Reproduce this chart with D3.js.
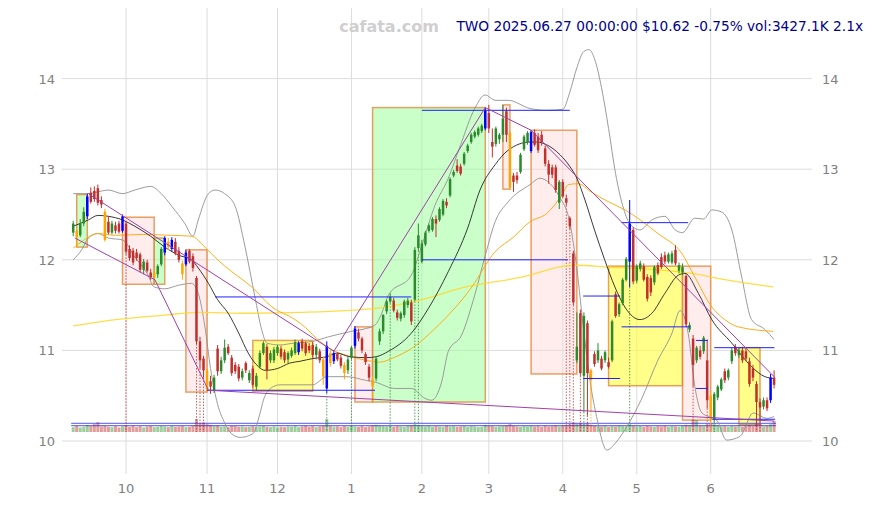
<!DOCTYPE html>
<html><head><meta charset="utf-8">
<script src="https://cdn.jsdelivr.net/npm/d3@7"></script>
<style>body{margin:0;background:#fff}svg{display:block}text{font-family:"DejaVu Sans",sans-serif}</style>
</head><body><svg id="c" width="874" height="505"></svg>
<script>
// ---------- DATA ----------
const monthTickIdx = [15,38,58,79,99,118,139,160,181];
const monthTickLbl = ["10","11","12","1","2","3","4","5","6"];
const priceTicks = [10,11,12,13,14];

// daily candles [open, high, low, close], trading days 2024-09-10 .. 2025-06-27
const candles = [
[12.30,12.43,12.26,12.40],[12.32,12.34,12.14,12.25],[12.27,12.45,12.25,12.40],[12.40,12.58,12.37,12.53],[12.48,12.73,12.45,12.70],
[12.74,12.80,12.62,12.64],[12.76,12.81,12.64,12.67],[12.79,12.83,12.60,12.63],[12.66,12.70,12.57,12.61],[12.53,12.56,12.20,12.22],
[12.42,12.48,12.28,12.30],[12.30,12.43,12.28,12.40],[12.38,12.42,12.29,12.32],[12.40,12.43,12.29,12.31],[12.32,12.50,12.30,12.48],
[12.40,12.43,12.06,12.09],[12.12,12.16,11.99,12.02],[12.10,12.13,11.94,11.97],[12.08,12.12,11.99,12.02],[12.06,12.08,11.86,11.89],
[11.89,12.01,11.84,11.98],[11.97,12.00,11.86,11.88],[11.86,11.90,11.78,11.81],[11.80,11.90,11.75,11.86],[11.84,11.95,11.80,11.93],
[11.95,12.14,11.93,12.12],[12.08,12.26,12.05,12.24],[12.20,12.24,12.11,12.14],[12.12,12.25,12.09,12.22],[12.20,12.24,12.05,12.07],
[12.10,12.14,11.97,12.00],[11.96,11.99,11.78,11.84],[11.95,12.11,11.93,12.08],[12.10,12.12,11.96,11.98],[12.04,12.07,11.87,11.91],
[11.80,11.82,11.07,11.10],[11.10,11.15,10.80,10.89],[10.91,10.94,10.70,10.78],[10.78,10.80,10.54,10.57],[10.66,10.72,10.52,10.60],
[10.56,10.73,10.53,10.70],[11.02,11.06,10.72,10.77],[10.77,10.93,10.74,10.89],[10.89,11.12,10.86,11.03],[11.04,11.07,10.95,10.97],
[10.92,10.95,10.72,10.75],[10.84,10.87,10.74,10.77],[10.82,10.85,10.66,10.69],[10.70,10.80,10.67,10.77],[10.86,10.88,10.75,10.78],
[10.67,10.78,10.64,10.75],[10.80,10.83,10.59,10.62],[10.60,10.75,10.56,10.72],[10.82,11.00,10.80,10.97],[10.97,11.10,10.95,11.08],
[11.04,11.07,10.68,10.78],[10.89,11.00,10.86,10.97],[10.89,11.04,10.86,11.01],[10.97,11.06,10.94,11.04],[11.02,11.05,10.90,10.93],
[10.98,11.01,10.86,10.89],[10.90,10.99,10.86,10.97],[10.94,11.03,10.92,11.00],[10.97,11.12,10.95,11.09],[10.98,11.10,10.95,11.08],
[11.10,11.13,10.99,11.02],[11.08,11.10,10.94,10.97],[11.05,11.08,10.97,11.00],[11.06,11.09,10.92,10.95],[10.95,11.07,10.90,11.04],
[10.99,11.02,10.86,10.89],[10.90,10.93,10.62,10.71],[10.58,11.10,10.53,11.05],[10.97,11.00,10.82,10.86],[10.88,11.00,10.85,10.97],
[10.96,10.98,10.88,10.90],[10.92,10.95,10.80,10.83],[10.84,10.87,10.68,10.75],[10.78,10.93,10.74,10.90],[10.92,11.05,10.90,11.03],
[11.05,11.27,11.02,11.24],[11.20,11.24,11.10,11.13],[11.13,11.15,10.97,11.00],[10.96,10.98,10.84,10.87],[10.82,10.85,10.66,10.70],
[10.68,10.72,10.44,10.61],[10.69,10.93,10.66,10.91],[11.10,11.24,11.06,11.21],[11.21,11.40,11.18,11.39],[11.43,11.56,11.40,11.54],
[11.54,11.63,11.52,11.59],[11.55,11.58,11.42,11.44],[11.42,11.45,11.33,11.36],[11.35,11.43,11.32,11.41],[11.39,11.56,11.36,11.54],
[11.50,11.58,11.47,11.55],[11.53,11.56,11.28,11.32],[11.56,12.14,11.54,12.11],[12.13,12.40,12.10,12.27],[11.98,12.22,11.96,12.18],
[12.17,12.32,12.15,12.30],[12.32,12.40,12.30,12.38],[12.33,12.47,12.31,12.45],[12.45,12.49,12.25,12.40],[12.44,12.58,12.42,12.56],
[12.50,12.67,12.48,12.65],[12.64,12.68,12.57,12.60],[12.71,12.91,12.69,12.89],[12.93,12.99,12.91,12.97],[13.04,13.11,12.96,12.98],
[13.03,13.06,12.93,12.95],[13.06,13.19,13.04,13.17],[13.20,13.28,13.18,13.26],[13.30,13.40,13.28,13.38],[13.36,13.43,13.34,13.41],
[13.38,13.47,13.36,13.45],[13.42,13.50,13.40,13.48],[13.45,13.68,13.43,13.65],[13.62,13.71,13.40,13.45],[13.30,13.45,13.13,13.25],
[13.28,13.47,13.25,13.45],[13.33,13.40,13.28,13.38],[13.38,13.71,13.30,13.56],[13.64,13.68,13.30,13.38],[13.40,13.42,12.77,12.80],
[12.93,12.96,12.75,12.86],[12.93,12.97,12.84,12.88],[12.97,13.18,12.95,13.16],[13.22,13.38,13.20,13.36],[13.30,13.42,13.27,13.40],
[13.20,13.43,13.18,13.41],[13.40,13.44,13.25,13.27],[13.36,13.40,13.18,13.21],[13.38,13.42,13.26,13.30],[13.23,13.26,13.03,13.06],
[13.06,13.10,12.84,12.94],[13.02,13.05,12.90,12.94],[13.02,13.05,12.74,12.77],[12.63,12.88,12.56,12.86],[12.86,12.89,12.68,12.70],
[12.68,12.72,12.60,12.63],[12.46,12.48,12.34,12.37],[12.07,12.10,11.50,11.53],[10.89,11.42,10.86,11.04],[11.41,11.45,10.72,10.75],
[10.72,11.42,10.32,11.38],[11.30,11.33,10.28,10.75],[10.78,10.80,10.33,10.67],[10.96,10.99,10.82,10.85],[10.89,11.08,10.86,11.00],
[10.91,10.94,10.78,10.80],[10.89,11.00,10.86,10.98],[10.87,10.92,10.80,10.82],[10.89,11.34,10.87,11.32],[11.62,11.65,11.36,11.38],
[11.40,11.53,11.37,11.51],[11.52,11.80,11.50,11.78],[11.78,12.03,11.76,12.01],[11.98,12.66,11.70,12.40],[12.33,12.36,11.73,11.76],
[11.77,11.95,11.74,11.93],[11.90,11.99,11.87,11.96],[11.93,11.96,11.76,11.78],[11.81,11.84,11.54,11.57],[11.80,11.83,11.60,11.64],
[11.75,11.94,11.72,11.92],[11.94,11.97,11.83,11.85],[12.03,12.07,11.90,11.92],[12.05,12.09,11.95,11.98],[11.98,12.08,11.96,12.06],
[11.97,12.10,11.95,12.07],[12.11,12.16,11.94,11.96],[11.88,11.97,11.85,11.94],[11.86,11.96,11.83,11.92],[11.82,11.84,11.26,11.29],
[11.23,11.31,11.20,11.28],[11.13,11.17,10.60,10.84],[10.89,11.05,10.86,11.03],[11.00,11.05,10.90,10.93],[10.99,11.16,10.96,11.14],
[10.89,11.12,10.36,10.45],[10.50,10.55,10.18,10.24],[10.24,10.54,10.21,10.52],[10.48,10.62,10.45,10.60],[10.57,10.70,10.55,10.68],
[10.77,10.80,10.64,10.67],[10.70,10.80,10.67,10.78],[10.88,11.03,10.85,11.00],[11.04,11.07,10.94,10.97],[10.95,11.03,10.92,11.00],
[11.00,11.04,10.86,10.89],[10.99,11.03,10.88,10.91],[10.88,10.92,10.60,10.63],[10.80,10.84,10.66,10.70],[10.63,10.66,10.17,10.43],
[10.43,10.47,10.22,10.37],[10.38,10.48,10.35,10.45],[10.45,10.48,10.33,10.36],[10.45,10.74,10.42,10.70],[10.70,10.78,10.58,10.62]
];
// daily volume (K shares)
const volume = [
1500,1900,1400,1600,2100,1800,2400,3000,1700,1900, 1600,1500,1800,1400,1700,2000,1600,1900,1500,1800,
1400,1700,1900,1500,1600,1800,1700,1500,1900,1600, 1700,1800,1500,1600,1900,4000,2600,2900,2400,2200,
1800,2000,1600,1700,1500,1900,1800,1600,1700,1500, 1600,1800,1500,1700,1900,1600,1500,1700,1400,1600,
1500,1700,1600,1800,1500,1700,1900,1600,1800,1500, 1700,1900,4000,1800,1600,1700,1500,1800,1600,1900,
1700,1600,1800,1500,1700,2000,2200,1900,1800,1700, 1900,1600,1800,1700,1600,1900,2000,2300,2100,1800,
1700,1900,1600,1800,1700,1600,1900,1700,1800,1600, 1700,1900,1600,1800,1700,1500,1600,2200,1900,1800,
1600,1700,1800,2000,2400,1900,1700,1600,1800,1700, 1900,1700,1800,1600,1900,1700,1800,2000,1700,1900,
2100,2300,2900,2500,2800,2400,2600,2200,1900,1800, 1700,1900,1600,1800,1700,2000,1800,1700,2400,1900,
1700,1800,1600,1900,1700,1600,1800,1700,1900,1600, 1800,1700,1600,1900,2200,2000,3900,3700,1900,1800,
2300,2600,2400,1900,1700,1800,1600,1900,1700,1800, 1600,1900,2100,1800,2600,2500,1700,1900,2400,3427
];
const volLevels = [2680, 1940];
const blueCandles = [4,14,26,28,32,64,72,74,80,117,130,158,198];
const orangeCandles = [1,9,23,27,31,38,71,73,77,85,124,147,181];
const dotRed = [15,35,36,37,140,141,142,144,146,176,180,194,195];
const dotGreen = [72,79,90,97,98,145,158,182];
const dotOrange = [147,181];

// pattern boxes [startIdx, endIdx, low, high, kind]
const boxes = [
[1,4,12.14,12.72,"up"],[14,23,11.73,12.47,"down"],[23,26,11.73,12.24,"up"],[32,38,10.54,12.11,"down"],
[51,68,10.55,11.11,"flat"],[80,85,10.43,11.26,"down"],[85,117,10.43,13.68,"up"],[122,124,12.78,13.71,"down"],
[130,143,10.74,13.43,"down"],[152,173,10.61,11.93,"flat"],[173,181,10.23,11.93,"down"],[189,195,10.18,11.03,"flat"]
];
// support/resistance segments [startIdx, endIdx, price]
const levels = [
[40.3,96,11.59],[38,85.7,10.56],[99,141,13.65],[99,140.5,12.0],[155.7,174.6,12.41],[144.8,155.3,11.60],
[155.7,175.1,11.26],[144.8,155.3,10.69],[176.8,180.2,11.11],[176.8,180.2,10.58],[182,199.1,11.03],[181.3,199.3,10.24]
];
// trend lines (idx, price)
const trendUpper = [[4.3,12.73],[74,10.99],[117,13.68],[130,13.43],[199,10.71]];
const trendLower = [[0.5,12.24],[23.2,11.78],[38.4,10.56],[199,10.22]];

// indicator curves (idx, price)
const ma20 = [[0,12.37],[4.3,12.44],[7,12.49],[10,12.48],[14,12.44],[17.5,12.37],[22,12.26],[26,12.14],[30,12.05],[33.6,12.0],[35.5,11.91],[38.4,11.74],[41,11.56],[44,11.41],[47,11.19],[49.7,10.97],[52.6,10.82],[54.5,10.78],[58,10.80],[61.5,10.86],[64.4,10.88],[68,10.91],[72,10.93],[74.8,10.97],[78.6,10.93],[83.3,10.92],[86,10.93],[89.5,10.99],[96,11.19],[100.8,11.46],[106.5,11.87],[112,12.35],[115.5,12.77],[119.8,13.05],[123.5,13.21],[129.7,13.30],[131.6,13.30],[134.4,13.27],[138.2,13.16],[141,13.03],[143,12.90],[145.3,12.66],[148,12.33],[150.9,12.0],[153.8,11.70],[156.6,11.48],[160.9,11.34],[164.3,11.41],[168,11.63],[171.8,11.83],[173.7,11.85],[177.5,11.63],[181.3,11.34],[187,11.08],[192.6,10.82],[196.4,10.71],[199,10.69]];
const bbUpper = [[0,12.73],[4,12.73],[7,12.75],[10,12.77],[14,12.73],[17.5,12.77],[22,12.81],[25,12.73],[28,12.59],[31.7,12.40],[34,12.26],[35.5,12.44],[38.4,12.73],[40.3,12.77],[43,12.73],[46,12.59],[48.8,12.14],[51.6,11.59],[53.5,11.23],[55,11.08],[58.7,11.06],[62.5,11.08],[68,11.10],[72.5,11.15],[79,11.21],[83,11.24],[85.7,11.28],[87.5,11.40],[89.5,11.61],[96,11.83],[99,12.16],[102.7,12.60],[106.5,12.90],[110,13.27],[114,13.67],[117,13.82],[119.8,13.76],[123.5,13.76],[129.7,13.67],[134.4,13.65],[139,13.66],[141,13.85],[143,14.12],[145,14.30],[146.5,14.32],[148,14.22],[150,13.90],[152,13.45],[154,12.95],[156,12.60],[158,12.40],[160.9,12.33],[164.3,12.44],[168,12.48],[170.9,12.33],[173,12.30],[176.5,12.46],[179,12.45],[181.3,12.55],[184,12.53],[187,12.33],[189.8,11.81],[192.6,11.34],[196.4,11.23],[199,11.12]];
const bbLower = [[0,12.0],[2.4,12.11],[4.3,12.24],[7,12.29],[10,12.24],[14,12.22],[17.5,12.03],[21,11.85],[23,11.70],[26,11.68],[30,11.72],[33.6,11.74],[35.5,11.63],[37.4,11.26],[39,10.80],[40.7,10.45],[43,10.2],[45,10.08],[47.4,10.04],[51,10.08],[53,10.3],[54,10.45],[56,10.58],[58.7,10.62],[68,10.62],[72,10.71],[77.7,10.71],[83,10.67],[85.7,10.65],[91.4,10.58],[96,10.58],[99.9,10.47],[101.8,10.45],[104.6,10.65],[106.5,10.99],[110.3,11.17],[114,11.61],[117,12.05],[119.8,12.42],[123.5,12.64],[129.7,12.83],[132.5,12.90],[135.4,12.84],[138,12.70],[141,12.41],[143,11.9],[145,11.2],[147,10.6],[148.6,10.27],[151.5,9.90],[154,9.98],[157.2,10.16],[161.2,10.45],[166,10.89],[170,11.19],[172.3,11.44],[174.6,11.19],[176.5,10.60],[178.5,10.31],[182.7,10.23],[185.5,10.01],[189.3,10.05],[193.1,10.31],[196.9,10.25],[199,10.27]];
const ma50 = [[0,12.13],[2.4,12.20],[7,12.29],[12,12.27],[20,12.28],[28,12.27],[33.6,12.26],[37.4,12.14],[41,12.0],[45,11.87],[50.7,11.70],[56.4,11.48],[63,11.34],[66,11.25],[70,11.10],[73.9,11.0],[79,10.93],[83.3,10.89],[87,10.87],[91,10.92],[96,11.02],[102.7,11.24],[113,11.69],[119.8,12.09],[125,12.25],[129.7,12.42],[134.4,12.51],[139,12.73],[140.6,12.83],[143.4,12.84],[147,12.75],[152,12.64],[156.7,12.55],[161,12.44],[166,12.29],[172.8,12.07],[176.5,11.81],[181.3,11.48],[185,11.34],[188.8,11.26],[198.8,11.21]];
const ma200 = [[0,11.27],[12,11.34],[26,11.39],[35.5,11.42],[49.7,11.41],[64.4,11.42],[87,11.47],[99,11.56],[110.3,11.69],[129.7,11.83],[137.7,11.92],[142.5,11.94],[152,11.92],[166,11.89],[175.6,11.85],[185,11.78],[198.8,11.70]];

const titleBrand = "cafata.com";
const titleInfo = "TWO 2025.06.27 00:00:00 $10.62 -0.75% vol:3427.1K 2.1x";

// ---------- DRAW ----------
const svg = d3.select("#c");
const x = d3.scaleLinear().domain([0,199]).range([73.2,774.1]);
const y = d3.scaleLinear().domain([10,14]).range([441,78.6]);
const vy = d3.scaleLinear().domain([0,4000]).range([432,419]);
const plotL = 62, plotR = 812, plotT = 8, plotB = 474;

const UP="#2b8a2b", DN="#c0302c", BLUE="#0000ff", ORG="#ffa500";

// grid
const g = svg.append("g");
g.selectAll(".hg").data(priceTicks).join("line")
 .attr("x1",plotL).attr("x2",plotR).attr("y1",d=>y(d)).attr("y2",d=>y(d))
 .attr("stroke","#dcdcdc").attr("stroke-width",1);
g.selectAll(".vg").data(monthTickIdx).join("line")
 .attr("x1",d=>x(d)).attr("x2",d=>x(d)).attr("y1",plotT).attr("y2",plotB)
 .attr("stroke","#dcdcdc").attr("stroke-width",1);

// axis labels
const tcol="#808080";
svg.selectAll(".yl").data(priceTicks).join("text").attr("x",55).attr("y",d=>y(d)+5)
 .attr("text-anchor","end").attr("font-size",13).attr("fill",tcol).text(d=>d);
svg.selectAll(".yr").data(priceTicks).join("text").attr("x",822).attr("y",d=>y(d)+5)
 .attr("text-anchor","start").attr("font-size",13).attr("fill",tcol).text(d=>d);
svg.selectAll(".xl").data(monthTickIdx).join("text").attr("x",d=>x(d)).attr("y",493)
 .attr("text-anchor","middle").attr("font-size",13).attr("fill",tcol).text((d,i)=>monthTickLbl[i]);

// boxes
const boxFill = {up:"rgba(150,255,150,0.5)", down:"rgba(255,215,215,0.45)", flat:"rgba(255,255,60,0.6)"};
svg.append("g").selectAll("rect").data(boxes).join("rect")
 .attr("x",d=>x(d[0])).attr("width",d=>x(d[1])-x(d[0]))
 .attr("y",d=>y(d[3])).attr("height",d=>y(d[2])-y(d[3]))
 .attr("fill",d=>boxFill[d[4]]).attr("stroke","rgba(225,130,50,0.75)").attr("stroke-width",1.5);

// volume
const bw = 2.5;
svg.append("g").selectAll("rect").data(volume).join("rect")
 .attr("x",(d,i)=>x(i)-1.5).attr("width",3)
 .attr("y",d=>vy(d)).attr("height",d=>vy(0)-vy(d))
 .attr("fill",(d,i)=>candles[i][3]>=candles[i][0]?"rgba(60,160,60,0.5)":"rgba(200,60,60,0.5)");
svg.append("g").selectAll("line").data(volLevels).join("line")
 .attr("x1",x(0)-2).attr("x2",x(199)+2).attr("y1",d=>vy(d)).attr("y2",d=>vy(d))
 .attr("stroke","rgba(40,40,220,0.8)").attr("stroke-width",1);

// dotted verticals
const dots = [...dotRed.map(i=>[i,DN]),...dotGreen.map(i=>[i,UP]),...dotOrange.map(i=>[i,ORG])];
svg.append("g").selectAll("line").data(dots).join("line")
 .attr("x1",d=>x(d[0])).attr("x2",d=>x(d[0])).attr("y1",d=>y(candles[d[0]][2])).attr("y2",432)
 .attr("stroke",d=>d[1]).attr("stroke-width",0.8).attr("stroke-dasharray","1.5,1.5");

// indicator lines
const lineGen = d3.line().x(d=>x(d[0])).y(d=>y(d[1])).curve(d3.curveMonotoneX);
const lines = [[bbUpper,"#909090",0.9],[bbLower,"#909090",0.9],[ma200,"rgba(255,215,40,0.85)",1.3],[ma50,"rgba(255,165,0,0.9)",1],[ma20,"#222",0.9]];
svg.append("g").selectAll("path").data(lines).join("path")
 .attr("d",d=>lineGen(d[0])).attr("fill","none").attr("stroke",d=>d[1]).attr("stroke-width",d=>d[2]);

// candles
const cg = svg.append("g");
const colorOf = (d,i)=> blueCandles.includes(i)?BLUE:orangeCandles.includes(i)?ORG:(d[3]>=d[0]?UP:DN);
cg.selectAll("line").data(candles).join("line")
 .attr("x1",(d,i)=>x(i)).attr("x2",(d,i)=>x(i)).attr("y1",d=>y(d[1])).attr("y2",d=>y(d[2]))
 .attr("stroke",colorOf).attr("stroke-width",1);
cg.selectAll("rect").data(candles).join("rect")
 .attr("x",(d,i)=>x(i)-bw/2).attr("width",bw)
 .attr("y",d=>y(Math.max(d[0],d[3]))).attr("height",d=>Math.max(1,Math.abs(y(d[0])-y(d[3]))))
 .attr("fill",colorOf);

// support/resistance
svg.append("g").selectAll("line").data(levels).join("line")
 .attr("x1",d=>x(d[0])).attr("x2",d=>x(d[1])).attr("y1",d=>y(d[2])).attr("y2",d=>y(d[2]))
 .attr("stroke","#2020ff").attr("stroke-width",1);

// trend lines
const tl = d3.line().x(d=>x(d[0])).y(d=>y(d[1]));
svg.append("g").selectAll("path").data([trendUpper,trendLower]).join("path")
 .attr("d",tl).attr("fill","none").attr("stroke","#a040a8").attr("stroke-width",1);

// title
svg.append("text").attr("x",389).attr("y",32).attr("text-anchor","middle")
 .attr("font-size",16).attr("font-weight","bold").attr("fill","#cfcfcf").text(titleBrand);
svg.append("text").attr("x",863).attr("y",31).attr("text-anchor","end")
 .attr("font-size",13.7).attr("fill","#00008b").text(titleInfo);
</script></body></html>
